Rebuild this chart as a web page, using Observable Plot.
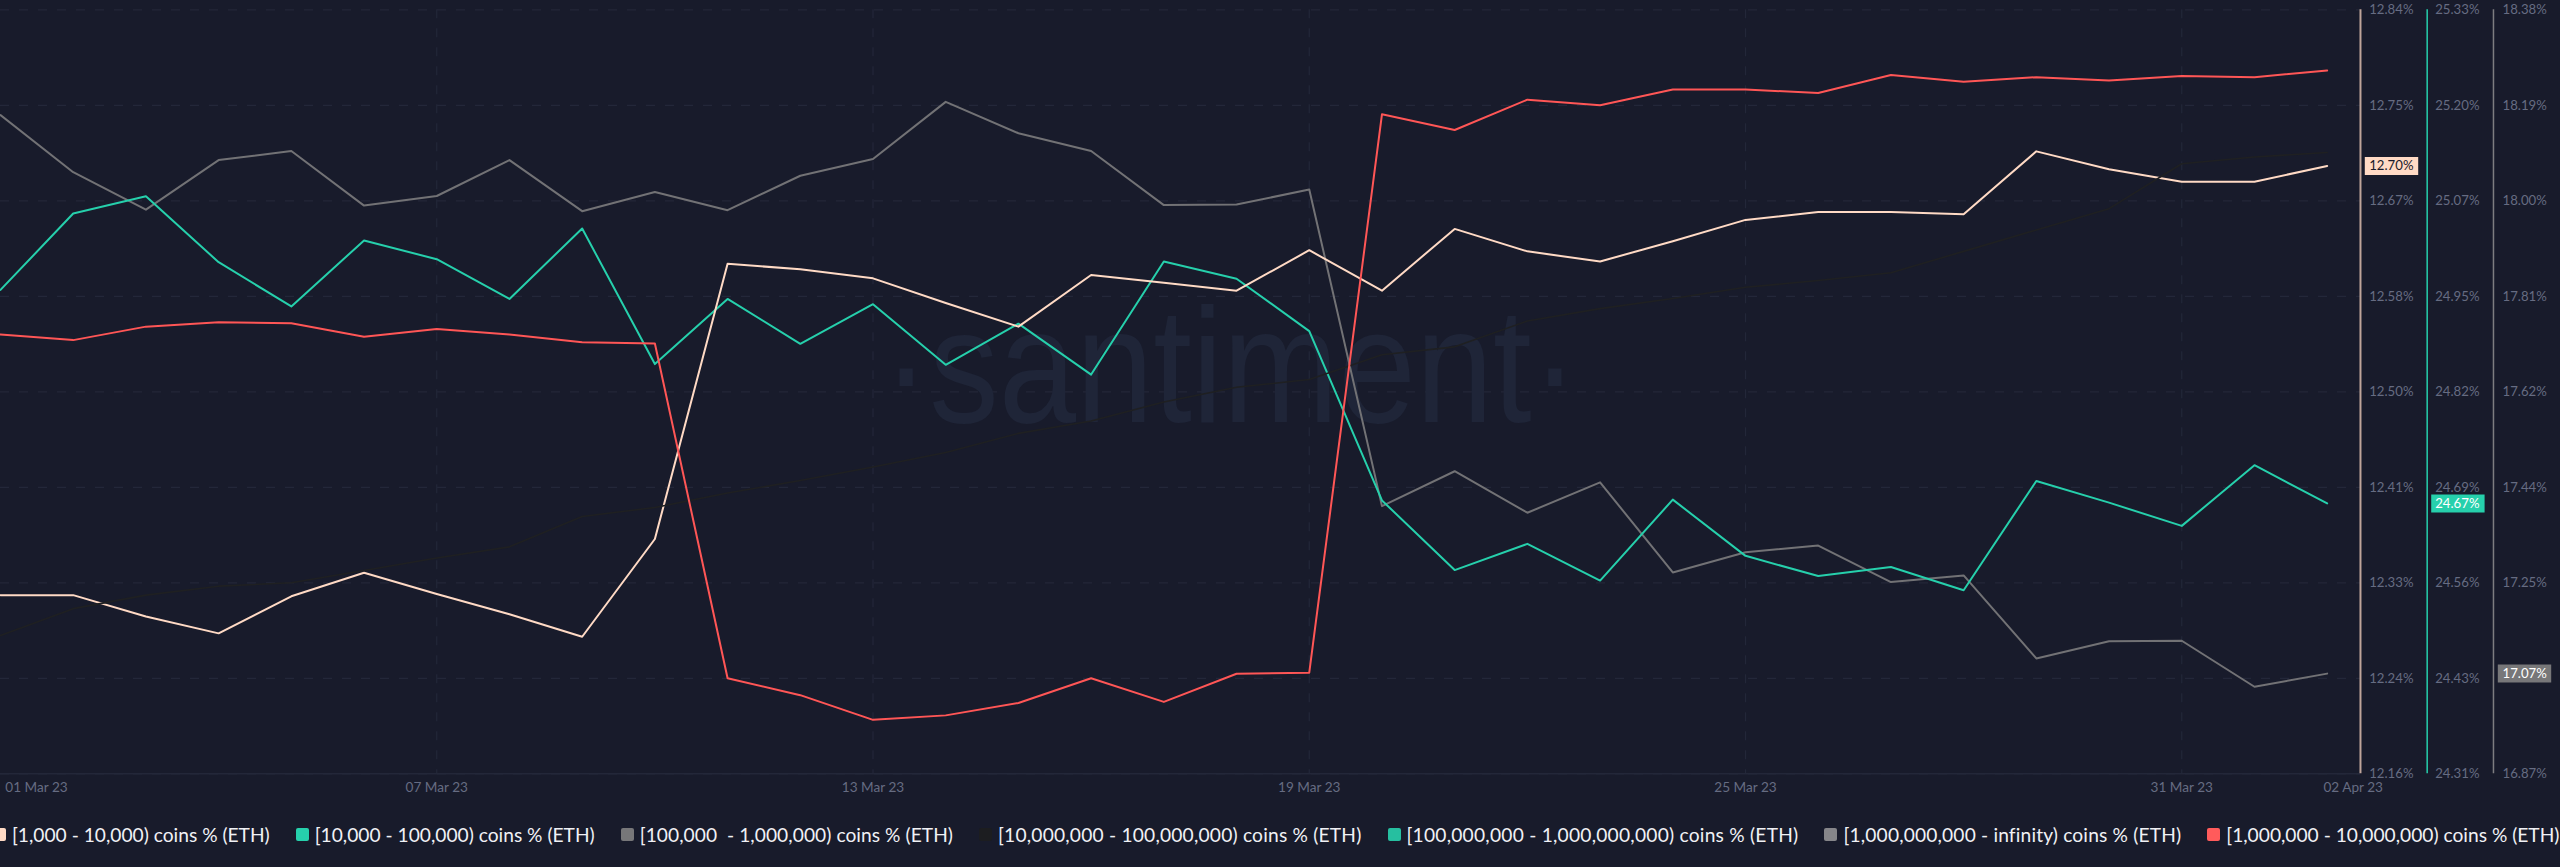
<!DOCTYPE html>
<html>
<head>
<meta charset="utf-8">
<script src="https://cdn.jsdelivr.net/npm/d3@7"></script>
<script src="https://cdn.jsdelivr.net/npm/@observablehq/plot@0.6"></script>
<style>
html,body{margin:0;padding:0;background:#181b2b;width:2560px;height:867px;overflow:hidden}
#chart svg{display:block}
#legend{display:flex;align-items:center;height:57px;margin-top:-4px;margin-left:-7px;white-space:pre;font:19.2px Lato,sans-serif;color:#f0f1f5;overflow:visible}
#legend .item{display:flex;align-items:center;margin-right:26px;flex:none}
#legend .sw{width:13px;height:13px;border-radius:2px;margin-right:6px;flex:none}
#legend .item:nth-child(3) .t{letter-spacing:.05px}
#legend .item:nth-child(4) .t{letter-spacing:.2px}
#legend .item:nth-child(5) .t{letter-spacing:.23px}
#legend .item:nth-child(6) .t{letter-spacing:.16px}
</style>
</head>
<body>
<div id="chart"></div>
<div id="legend"></div>
<script>
const startDate = "2023-03-01";
const endDate = "2023-04-02";
const peachValues = [12.319,12.319,12.300,12.285,12.318,12.339,12.320,12.302,12.282,12.369,12.614,12.609,12.601,12.579,12.558,12.604,12.597,12.590,12.626,12.590,12.645,12.625,12.616,12.634,12.653,12.660,12.660,12.658,12.714,12.698,12.687,12.687,12.701];
const tealValues = [24.956,25.058,25.081,24.993,24.934,25.022,24.997,24.944,25.038,24.857,24.944,24.884,24.937,24.856,24.911,24.843,24.994,24.971,24.901,24.675,24.582,24.617,24.568,24.676,24.601,24.574,24.586,24.555,24.701,24.672,24.641,24.722,24.671];
const grayValues = [18.172,18.059,17.985,18.083,18.101,17.993,18.012,18.083,17.982,18.020,17.984,18.052,18.085,18.198,18.136,18.101,17.994,17.995,18.025,17.399,17.468,17.386,17.446,17.268,17.308,17.321,17.249,17.262,17.098,17.132,17.133,17.042,17.068];
const darkValues = [12.283,12.307,12.319,12.327,12.330,12.341,12.352,12.362,12.389,12.397,12.410,12.421,12.433,12.446,12.463,12.474,12.491,12.504,12.511,12.533,12.540,12.563,12.574,12.583,12.593,12.599,12.606,12.625,12.644,12.663,12.703,12.709,12.713];
const redValues = [12.551,12.546,12.558,12.562,12.561,12.549,12.556,12.551,12.544,12.543,12.245,12.230,12.208,12.212,12.223,12.245,12.224,12.249,12.250,12.747,12.733,12.760,12.755,12.769,12.769,12.766,12.782,12.776,12.780,12.777,12.781,12.780,12.786];

const peachTicks = ["12.16","12.24","12.33","12.41","12.50","12.58","12.67","12.75","12.84"];
const tealTicks = ["24.31","24.43","24.56","24.69","24.82","24.95","25.07","25.20","25.33"];
// the tick at the second position of this axis sits behind the latest-value badge
const grayTicks = ["16.87",null,"17.25","17.44","17.62","17.81","18.00","18.19","18.38"];

const firstTickDate = "2023-03-01", firstTickLabel = "01 Mar 23";
const xTickDates = ["2023-03-07","2023-03-13","2023-03-19","2023-03-25","2023-03-31"];
const xTickLabels = ["07 Mar 23","13 Mar 23","19 Mar 23","25 Mar 23","31 Mar 23"];
const endLabel = "02 Apr 23";
const watermark = "·santiment·";

const legendNames = ["[1,000 - 10,000) coins % (ETH)","[10,000 - 100,000) coins % (ETH)","[100,000  - 1,000,000) coins % (ETH)","[10,000,000 - 100,000,000) coins % (ETH)","[100,000,000 - 1,000,000,000) coins % (ETH)","[1,000,000,000 - infinity) coins % (ETH)","[1,000,000 - 10,000,000) coins % (ETH)"];
const legendColors = ["#ffdac5","#26d0ac","#777779","#1c1d20","#26bfa0","#86868a","#ff5b5b"];

const GRID = "#232739", TICK = "#666c82";
const PEACH = "#ffdac5", TEAL = "#26d0ac", GRAY = "#727275", DARK = "#1f2022", RED = "#ff5656";

const dates = d3.utcDay.range(new Date(startDate), d3.utcDay.offset(new Date(endDate), 1));
const lastDate = new Date(endDate);
const peachRange = [12.16, 12.84], tealRange = [24.31, 25.33], grayRange = [16.87, 18.38];
const frac = (v, r) => (v - r[0]) / (r[1] - r[0]);
const table = (vals, r) => vals.map((v, i) => ({date: dates[i], f: frac(v, r)}));
const lineMark = (vals, r, stroke, strokeWidth) =>
  Plot.line(table(vals, r), {x: "date", y: "f", stroke, strokeWidth, curve: "linear"});
const tickPos = peachTicks.map((_, i) => i / (peachTicks.length - 1));
const FS = 13.2, XFS = 13.6;
const tickLabels = (labels, dx) => Plot.text(
  labels.map((l, i) => ({l, f: tickPos[i]})).filter(d => d.l),
  {y: "f", text: d => d.l + "%", frameAnchor: "right", textAnchor: "start", dx, fill: TICK, fontSize: FS});
const axisRule = (dx, stroke, strokeWidth) => Plot.ruleX([lastDate], {dx, stroke, strokeWidth});
const badgeSymbol = {draw(c) { c.rect(-26.7, -9, 53.4, 18); }};
const badge = (v, r, dx, fill, textFill, bdx) => [
  Plot.dot([{f: frac(v, r)}], {y: "f", frameAnchor: "right", dx: bdx, symbol: badgeSymbol, r: 5, fill, stroke: "none"}),
  Plot.text([{f: frac(v, r)}], {y: "f", text: () => v.toFixed(2) + "%", frameAnchor: "right", textAnchor: "start", dx, fill: textFill, fontSize: FS})
];
const dateLabel = (items, dx) => Plot.text(items, {
  x: "d", text: "l", frameAnchor: "bottom", lineAnchor: "middle", dy: 14, dx, fill: TICK, fontSize: XFS});

const plot = Plot.plot({
  width: 2560, height: 810,
  marginLeft: 0, marginRight: 200, marginTop: 9.3, marginBottom: 36.7,
  style: {background: "transparent", fontFamily: "Lato, sans-serif"},
  x: {type: "utc", domain: [new Date(startDate), d3.utcHour.offset(lastDate, 11)], axis: null},
  y: {domain: [0, 1], axis: null},
  marks: [
    Plot.ruleY(tickPos, {stroke: GRID, strokeWidth: 1.2, strokeDasharray: "9 10"}),
    Plot.ruleX(xTickDates.map(d => new Date(d)), {stroke: GRID, strokeWidth: 1.2, strokeDasharray: "9 10"}),
    Plot.ruleY([0], {stroke: GRID, strokeWidth: 1.5}),
    Plot.text([watermark], {frameAnchor: "middle", dx: 50, dy: -22, fill: "#1f2538", fontSize: 164, fontFamily: "Liberation Sans Narrow, Liberation Sans, sans-serif"}),
    lineMark(grayValues, grayRange, GRAY, 2),
    lineMark(tealValues, tealRange, TEAL, 2),
    lineMark(peachValues, peachRange, PEACH, 2),
    lineMark(darkValues, peachRange, DARK, 1.6),
    lineMark(redValues, peachRange, RED, 2),
    axisRule(33.3, "#bfa59b", 2),
    axisRule(100, TEAL, 1.5),
    axisRule(166.3, "#7d7d80", 1.5),
    tickLabels(peachTicks, 8.7),
    tickLabels(tealTicks, 74.7),
    tickLabels(grayTicks, 142),
    ...badge(peachValues[32], peachRange, 8.7, PEACH, "#1a1b2a", 31),
    ...badge(tealValues[32], tealRange, 74.7, TEAL, "#ffffff", 97.4),
    ...badge(grayValues[32], grayRange, 142, "#777779", "#ffffff", 164),
    dateLabel([{d: new Date(firstTickDate), l: firstTickLabel}], 36),
    dateLabel(xTickDates.map((d, i) => ({d: new Date(d), l: xTickLabels[i]})), 0),
    dateLabel([{d: lastDate, l: endLabel}], 26)
  ]
});
document.getElementById("chart").appendChild(plot);

const wm = d3.select(plot).selectAll("text").filter(function(){ return this.textContent === watermark; });
wm.attr("textLength", 695).attr("lengthAdjust", "spacingAndGlyphs");

const legend = d3.select("#legend");
legendNames.forEach((n, i) => {
  const it = legend.append("div").attr("class", "item");
  it.append("span").attr("class", "sw").style("background", legendColors[i]);
  it.append("span").attr("class", "t").text(n);
});
</script>
</body>
</html>
